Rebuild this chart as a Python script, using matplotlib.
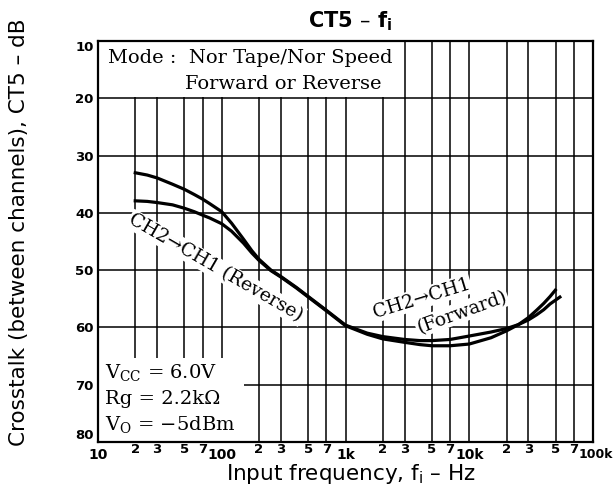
import numpy as np
import matplotlib
matplotlib.use("Agg")
import matplotlib.pyplot as plt
from matplotlib.patches import Rectangle
from matplotlib.transforms import ScaledTranslation

plt.rcParams['mathtext.default'] = 'regular'

# ---- data ----
freq_rev = [20, 25, 30, 40, 50, 60, 70, 80, 100, 120, 150, 175, 200, 250, 300,
            400, 500, 700, 1000, 1500, 2000, 3000, 4000, 5000, 7000, 10000,
            15000, 20000, 25000, 30000, 35000, 40000, 45000, 54000]
ct_curve1 = [33.0, 33.4, 33.9, 35.0, 35.9, 36.8, 37.6, 38.4, 39.8, 41.8, 44.6,
             46.6, 48.1, 50.0, 51.1, 53.0, 54.6, 57.0, 59.6, 61.0, 61.6, 62.1,
             62.3, 62.3, 62.1, 61.5, 60.8, 60.2, 59.5, 58.7, 57.8, 56.9, 55.9,
             54.7]
freq_fwd = [20, 25, 30, 40, 50, 60, 70, 80, 100, 120, 150, 175, 200, 250, 300,
            400, 500, 700, 1000, 1500, 2000, 3000, 4000, 5000, 7000, 10000,
            15000, 20000, 25000, 30000, 35000, 40000, 45000, 49600]
ct_curve2 = [37.9, 38.0, 38.2, 38.6, 39.2, 39.8, 40.4, 40.9, 41.9, 43.2, 45.3,
             47.0, 48.3, 50.1, 51.2, 53.1, 54.7, 57.1, 59.7, 61.2, 62.0, 62.6,
             63.0, 63.2, 63.2, 62.9, 61.8, 60.6, 59.5, 58.3, 57.0, 55.8, 54.6,
             53.5]

y_ticks = [10, 20, 30, 40, 50, 60, 70, 80]
x_major = [10, 100, 1000, 10000, 100000]
x_major_labels = ['10', '100', '1k', '10k', '100k']
x_minor = [m * d for d in [10, 100, 1000, 10000] for m in (2, 3, 5, 7)]
x_minor_labels = ['2', '3', '5', '7'] * 4

W, H = 613, 486
fig = plt.figure(figsize=(W / 100, H / 100), dpi=100)
ax = fig.add_axes([98 / W, 1 - 442 / H, (593 - 98) / W, (442 - 41) / H])
ax.set_xscale('log')
ax.set_xlim(10, 100000)
ax.set_ylim(80, 10)

ax.set_xticks(x_major)
ax.set_xticklabels(x_major_labels)
ax.set_xticks(x_minor, minor=True)
ax.set_xticklabels(x_minor_labels, minor=True)
ax.set_yticks(y_ticks)
ax.set_yticklabels([str(v) for v in y_ticks])
ax.set_yticks([], minor=True)

ax.tick_params(axis='both', which='both', length=0)
ax.tick_params(axis='x', which='major', pad=4, labelsize=10)
ax.tick_params(axis='x', which='minor', pad=1, labelsize=9.5)
ax.tick_params(axis='y', which='major', pad=3, labelsize=9.5)
for lab in ax.get_xticklabels(which='both') + ax.get_yticklabels():
    lab.set_fontfamily('DejaVu Sans')
    lab.set_fontweight('bold')
ylabs = ax.get_yticklabels()
ylabs[0].set_va('top')
ylabs[-1].set_va('bottom')
# nudge the last frequency label right, as in the reference
last = ax.xaxis.get_major_ticks()[-1].label1
last.set_fontsize(9)
last.set_transform(last.get_transform() +
                   ScaledTranslation(2.5 / 100, 0, fig.dpi_scale_trans))

ax.grid(True, which='both', color='black', linewidth=1.1, zorder=1)
ax.set_axisbelow(True)
for s in ax.spines.values():
    s.set_linewidth(1.6)
    s.set_zorder(5)

# white areas behind the in-chart notes
ax.add_patch(Rectangle((10, 10), 2500 - 10, 9.8, facecolor='white',
                       edgecolor='none', zorder=2))
ax.add_patch(Rectangle((10, 65.3), 150 - 10, 80 - 65.3, facecolor='white',
                       edgecolor='none', zorder=2))

ax.plot(freq_rev, ct_curve1, color='black', linewidth=2.3, zorder=4,
        solid_joinstyle='round')
ax.plot(freq_fwd, ct_curve2, color='black', linewidth=2.3, zorder=4,
        solid_joinstyle='round')

serif = ['DejaVu Serif']
ax.text(12.0, 13.84, 'Mode :  Nor Tape/Nor Speed', family=serif, fontsize=14,
        va='baseline', ha='left', zorder=6)
ax.text(50.5, 18.38, 'Forward or Reverse', family=serif, fontsize=14,
        va='baseline', ha='left', zorder=6)

ax.text(11.4, 68.8, 'V$_{CC}$ = 6.0V', family=serif, fontsize=14,
        va='baseline', ha='left', zorder=6)
ax.text(11.4, 73.4, 'Rg = 2.2kΩ', family=serif, fontsize=14,
        va='baseline', ha='left', zorder=6)
ax.text(11.4, 77.9, 'V$_{O}$ = −5dBm', family=serif, fontsize=14,
        va='baseline', ha='left', zorder=6)

wb = dict(facecolor='white', edgecolor='none', pad=1.0)
ax.text(90, 49.6, 'CH2→CH1 (Reverse)', family=serif, fontsize=13.5,
        rotation=-30, rotation_mode='anchor', ha='center', va='center',
        bbox=wb, zorder=3)
ax.text(4100, 54.9, 'CH2→CH1', family=serif, fontsize=13.5,
        rotation=17, rotation_mode='anchor', ha='center', va='center',
        bbox=wb, zorder=3)
ax.text(8700, 57.3, '(Forward)', family=serif, fontsize=13.5,
        rotation=20, rotation_mode='anchor', ha='center', va='center',
        bbox=wb, zorder=3)

fig.text(350 / W, 1 - 27 / H, 'CT5 – f$_i$', ha='center', va='baseline',
         family='DejaVu Sans', weight='bold', fontsize=15)
fig.text(351 / W, 1 - 480 / H, 'Input frequency, f$_i$ – Hz', ha='center',
         va='baseline', family='DejaVu Sans', fontsize=15.5)
fig.text(19 / W, 1 - 232 / H, 'Crosstalk (between channels), CT5 – dB',
         ha='center', va='center', rotation=90, family='DejaVu Sans',
         fontsize=15.5)

fig.savefig('out.png', dpi=100)
